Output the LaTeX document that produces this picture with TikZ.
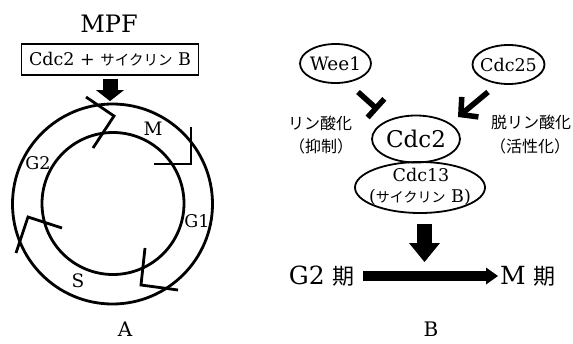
\documentclass[tikz,border=0pt]{standalone}
\usepackage{fontspec}
\setmainfont{DejaVu Serif}
\newfontfamily\jpfont{Noto Sans CJK JP}
\usetikzlibrary{shapes.geometric,arrows.meta}
\newcommand\fs[1]{\fontsize{#1}{#1}\selectfont}
\begin{document}
\begin{tikzpicture}[x=1pt,y=-1pt,
  txt/.style={inner sep=0pt, font=\fs{18}},
  oval/.style={draw, ellipse, line width=1.8pt, inner sep=0pt},
  ring/.style={draw, circle, line width=2.8pt, inner sep=0pt},
  chev/.style={line width=2.8pt, line join=miter},
  jpl/.style={inner sep=0pt, font=\jpfont\fs{16}},
]
\useasboundingbox (0,0) rectangle (573,343);
% ---------- Panel A ----------
\node[txt, font=\fs{24}] (mpf) at (109,24) {MPF};
\node[draw, line width=1.3pt, minimum width=177pt, minimum height=31pt, inner sep=0pt, font=\fs{17.5}] (box) at (110,59.5) {Cdc2 + {\jpfont\fs{14.5}サイクリン} B};
\node[ring, minimum size=200pt] (outer) at (112.5,204) {};
\node[ring, minimum size=142pt] (inner) at (113,203.5) {};
\draw[line width=15pt, -{Triangle[length=11pt,width=28pt,line width=0pt]}, shorten <=3pt, shorten >=1.5pt] (box.south) -- (box.south |- outer.north);
\draw[chev] (86,97) -- (114,116) -- (93,148);
\draw[chev] (191,127) -- (191,164) -- (154,164);
\draw[chev] (145,248) -- (141,285) -- (178,290);
\draw[chev] (62,228) -- (28,217) -- (16,253);
\node[txt, font=\fs{18.5}] (lm) at (153,129) {M};
\node[txt, font=\fs{17.5}] (lg2) at (38,163) {G2};
\node[txt, font=\fs{17.5}] (lg1) at (197,221) {G1};
\node[txt, font=\fs{18.5}] (ls) at (78,281) {S};
\node[txt, font=\fs{20}] (la) at (125,329) {A};
% ---------- Panel B ----------
\node[txt, font=\fs{20}] (lb) at (431,329) {B};
\node[oval, minimum width=71pt, minimum height=39pt, label={[txt,font=\fs{18.5}]center:Wee1}] (wee) at (335.5,63.5) {};
\node[oval, minimum width=72pt, minimum height=39pt, label={[txt,font=\fs{17.5}]center:Cdc25}] (cdc25) at (508.5,64.5) {};
\node[oval, minimum width=88pt, minimum height=47pt, label={[txt,font=\fs{23}]center:Cdc2}] (cdc2) at (416,139) {};
\node[oval, minimum width=130pt, minimum height=51pt] (cdc13) at (420,187.5) {};
\node[txt, font=\fs{17.5}] (t13) at (421,175) {Cdc13};
\node[txt, font=\fs{17.5}] (tcyc) at (420,197) {({\jpfont\fs{14}サイクリン} B)};
\draw[line width=5.5pt, -{Bar[width=25pt]}] ([shift={(22.5,28.5)}]wee.center) -- ([shift={(-38,-29)}]cdc2.center);
\draw[line width=5.5pt, -{Straight Barb[length=12pt,width=26pt]}] ([shift={(-20.5,27.5)}]cdc25.center) -- ([shift={(42,-22)}]cdc2.center);
\node[jpl] (phos) at (320,123) {リン酸化};
\node[jpl] (inh) at (321,146) {（抑制）};
\node[jpl] (dephos) at (531,122) {脱リン酸化};
\node[jpl] (act) at (530,146) {（活性化）};
\coordinate (hit) at (424.5,262);
\draw[line width=15pt, -{Triangle[length=19pt,width=31pt,line width=0pt]}] ([shift={(4.5,10.5)}]cdc13.south) -- (hit);
\node[txt, font=\fs{25}, anchor=east] (g2) at (355,276) {G2 {\jpfont\fs{22}期}};
\node[txt, font=\fs{25}, anchor=west] (mph) at (500,276) {M {\jpfont\fs{22}期}};
\draw[line width=10pt, -{Triangle[length=12pt,width=17pt,line width=0pt]}, shorten <=8pt, shorten >=2pt] (g2.east) -- (mph.west);
\end{tikzpicture}
\end{document}
